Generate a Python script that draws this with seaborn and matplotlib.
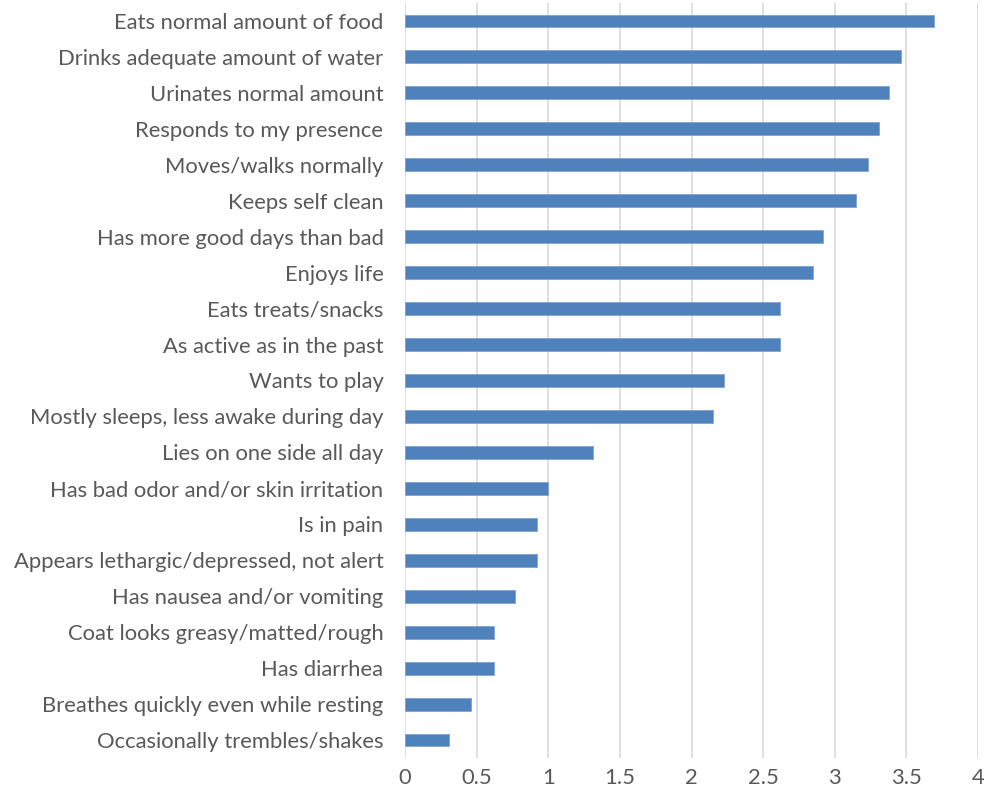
import matplotlib
matplotlib.use("Agg")
import matplotlib.pyplot as plt
import seaborn as sns
import pandas as pd

# Mean score per quality-of-life indicator
indicators = [
    "Eats normal amount of food",
    "Drinks adequate amount of water",
    "Urinates normal amount",
    "Responds to my presence",
    "Moves/walks normally",
    "Keeps self clean",
    "Has more good days than bad",
    "Enjoys life",
    "Eats treats/snacks",
    "As active as in the past",
    "Wants to play",
    "Mostly sleeps, less awake during day",
    "Lies on one side all day",
    "Has bad odor and/or skin irritation",
    "Is in pain",
    "Appears lethargic/depressed, not alert",
    "Has nausea and/or vomiting",
    "Coat looks greasy/matted/rough",
    "Has diarrhea",
    "Breathes quickly even while resting",
    "Occasionally trembles/shakes",
]
scores = [3.69, 3.46, 3.38, 3.31, 3.23, 3.15, 2.92, 2.85, 2.62, 2.62, 2.23,
          2.15, 1.31, 1.00, 0.92, 0.92, 0.77, 0.62, 0.62, 0.46, 0.31]
x_ticks = [0, 0.5, 1, 1.5, 2, 2.5, 3, 3.5, 4]
x_tick_labels = ["0", "0.5", "1", "1.5", "2", "2.5", "3", "3.5", "4"]

df = pd.DataFrame({"indicator": indicators, "score": scores})

sns.set_theme(style="white")
plt.rcParams["font.family"] = ["Lato", "DejaVu Sans"]

fig = plt.figure(figsize=(9.86, 7.98), dpi=100)
ax = fig.add_axes([405 / 986, 1 - 758 / 798, 573 / 986, 755 / 798])

sns.barplot(data=df, x="score", y="indicator", order=indicators,
            color="#4F81BD", saturation=1, width=0.36,
            edgecolor="#7FA3CF", linewidth=0.6, ax=ax)

ax.set_xlim(0, 4)
ax.set_ylim(20.5, -0.5)
ax.set_xticks(x_ticks)
ax.set_xticklabels(x_tick_labels)
ax.set_xlabel("")
ax.set_ylabel("")

ax.grid(axis="x", color="#D9D9D9", linewidth=1.2)
ax.grid(axis="y", visible=False)
ax.set_axisbelow(True)
for s in ax.spines.values():
    s.set_visible(False)

ax.tick_params(axis="both", length=0, labelsize=15.8, colors="#595959")
ax.tick_params(axis="y", pad=15.5)
ax.tick_params(axis="x", pad=7)

fig.savefig("out.png", dpi=100, facecolor="white")
